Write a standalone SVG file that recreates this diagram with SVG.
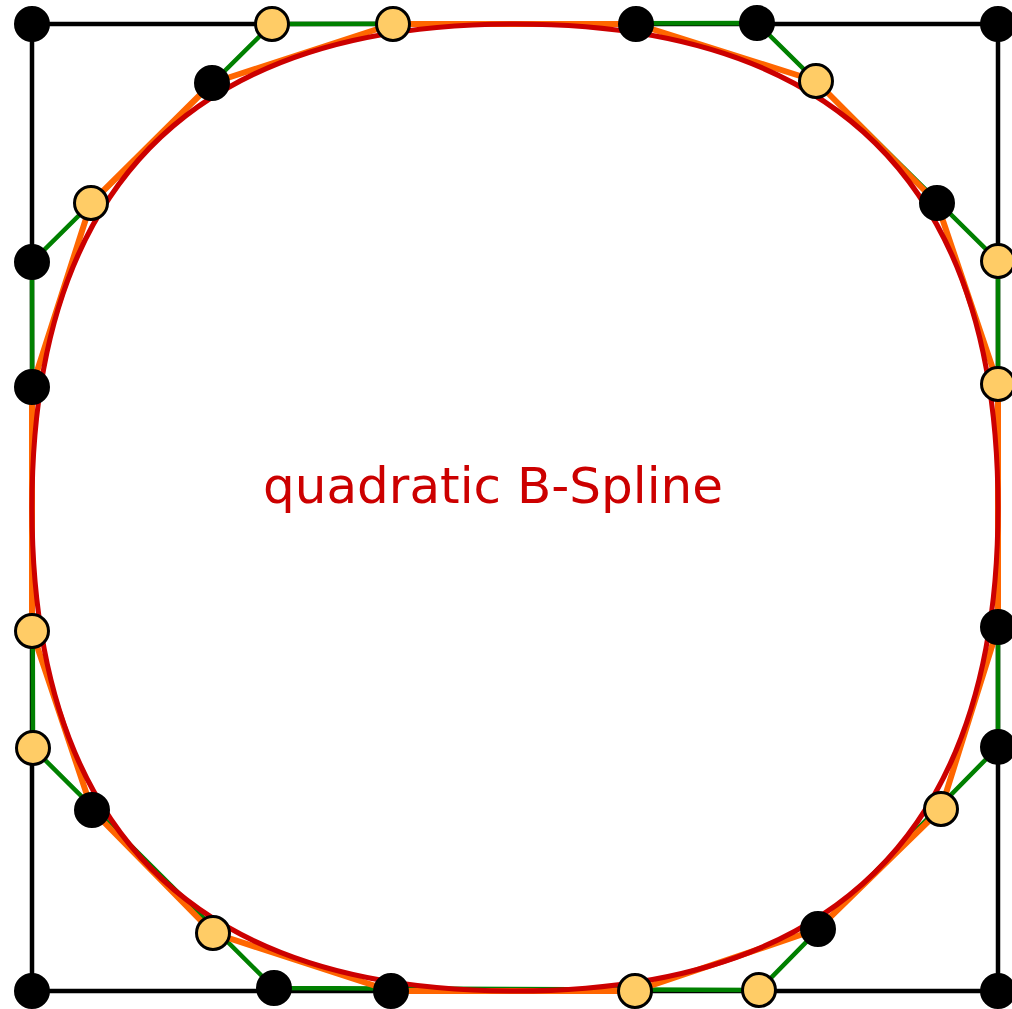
<svg xmlns="http://www.w3.org/2000/svg" width="1012" height="1009" viewBox="0 0 1012 1009">
<style>
.bg{fill:#ffffff}
.sq{fill:none;stroke:#000000;stroke-width:4.5;stroke-linejoin:round}
.oct{fill:none;stroke:#008000;stroke-width:4.5;stroke-linejoin:round}
.poly16{fill:none;stroke:#ff6600;stroke-width:6;stroke-linejoin:round}
.spline{fill:none;stroke:#cc0000;stroke-width:5}
.b{fill:#000000;stroke:#000000;stroke-width:3}
.y{fill:#ffcc66;stroke:#000000;stroke-width:3}
.lbl{font-family:"DejaVu Sans","Liberation Sans",sans-serif;font-size:50px;fill:#cc0000;text-anchor:middle}
</style>
<rect class="bg" x="0" y="0" width="1012" height="1009"/>
<g id="connectors">
<polygon class="sq" points="32,24 998,24 998,991 32,991"/>
<polygon class="oct" points="272,24 757,23 998,261 998,747 759,990 274,988 33,748 32,262"/>
<polygon class="poly16" points="212,83 393,24 636,24 816,81 937,203 998,384 998,627 941,809 818,929 635,991 391,991 213,933 92,810 32,631 32,387 91,203"/>
<path class="spline" d="M515,24 Q998,24 998,507.5 Q998,991 515,991 Q32,991 32,507.5 Q32,24 515,24 Z"/>
</g>
<g id="p0"><circle class="b" cx="32" cy="24" r="16.5"/></g>
<g id="p1"><circle class="b" cx="998" cy="24" r="16.5"/></g>
<g id="p2"><circle class="b" cx="998" cy="991" r="16.5"/></g>
<g id="p3"><circle class="b" cx="32" cy="991" r="16.5"/></g>
<g id="q0"><circle class="y" cx="272" cy="24" r="16.5"/></g>
<g id="q1"><circle class="b" cx="757" cy="23" r="16.5"/></g>
<g id="q2"><circle class="y" cx="998" cy="261" r="16.5"/></g>
<g id="q3"><circle class="b" cx="998" cy="747" r="16.5"/></g>
<g id="q4"><circle class="y" cx="759" cy="990" r="16.5"/></g>
<g id="q5"><circle class="b" cx="274" cy="988" r="16.5"/></g>
<g id="q6"><circle class="y" cx="33" cy="748" r="16.5"/></g>
<g id="q7"><circle class="b" cx="32" cy="262" r="16.5"/></g>
<g id="r0"><circle class="b" cx="212" cy="83" r="16.5"/></g>
<g id="r1"><circle class="y" cx="393" cy="24" r="16.5"/></g>
<g id="r2"><circle class="b" cx="636" cy="24" r="16.5"/></g>
<g id="r3"><circle class="y" cx="816" cy="81" r="16.5"/></g>
<g id="r4"><circle class="b" cx="937" cy="203" r="16.5"/></g>
<g id="r5"><circle class="y" cx="998" cy="384" r="16.5"/></g>
<g id="r6"><circle class="b" cx="998" cy="627" r="16.5"/></g>
<g id="r7"><circle class="y" cx="941" cy="809" r="16.5"/></g>
<g id="r8"><circle class="b" cx="818" cy="929" r="16.5"/></g>
<g id="r9"><circle class="y" cx="635" cy="991" r="16.5"/></g>
<g id="r10"><circle class="b" cx="391" cy="991" r="16.5"/></g>
<g id="r11"><circle class="y" cx="213" cy="933" r="16.5"/></g>
<g id="r12"><circle class="b" cx="92" cy="810" r="16.5"/></g>
<g id="r13"><circle class="y" cx="32" cy="631" r="16.5"/></g>
<g id="r14"><circle class="b" cx="32" cy="387" r="16.5"/></g>
<g id="r15"><circle class="y" cx="91" cy="203" r="16.5"/></g>
<g id="label"><text class="lbl" x="493" y="503">quadratic B-Spline</text></g>
</svg>
